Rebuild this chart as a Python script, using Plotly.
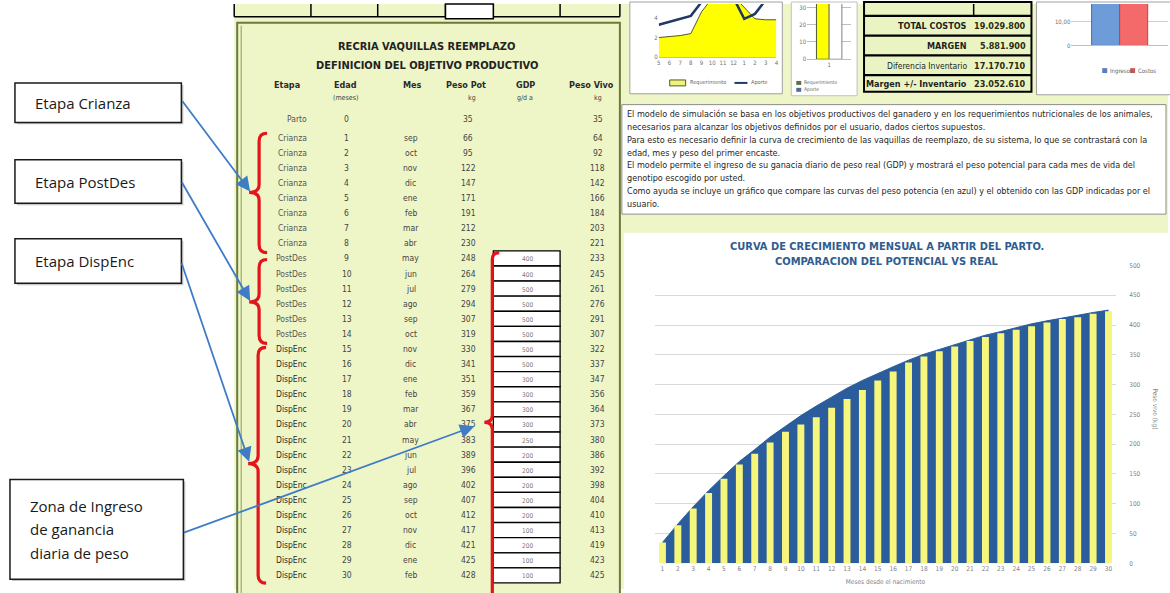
import plotly.graph_objects as go

W, H = 1170, 593

# --- tabla RECRIA VAQUILLAS REEMPLAZO ---
edad = list(range(31))
etapa = ["Parto"] + ["Crianza"] * 8 + ["PostDes"] * 6 + ["DispEnc"] * 16
mes = ["", "sep", "oct", "nov", "dic", "ene", "feb", "mar", "abr",
       "may", "jun", "jul", "ago", "sep", "oct", "nov", "dic", "ene", "feb",
       "mar", "abr", "may", "jun", "jul", "ago", "sep", "oct", "nov", "dic",
       "ene", "feb"]
peso_pot = [35, 66, 95, 122, 147, 171, 191, 212, 230, 248, 264, 279, 294, 307,
            319, 330, 341, 351, 359, 367, 375, 383, 389, 396, 402, 407, 412,
            417, 421, 425, 428]
peso_vivo = [35, 64, 92, 118, 142, 166, 184, 203, 221, 233, 245, 261, 276, 291,
             307, 322, 337, 347, 356, 364, 373, 380, 386, 392, 398, 404, 410,
             413, 419, 423, 425]
gdp = [400, 400, 500, 500, 500, 500, 500, 500, 300, 300, 300, 300, 250, 200,
       200, 200, 200, 200, 100, 200, 100, 100]  # edad 9..30

# --- grafico curva de crecimiento ---
meses_graf = [str(i) for i in range(1, 31)]
pot_graf = peso_pot[:30]
vivo_graf = peso_vivo[:30]

# --- graficos chicos de arriba (cortados) ---
meses_mini = ["5", "6", "7", "8", "9", "10", "11", "12", "1", "2", "3", "4"]
requerimiento = [2.0, 2.1, 2.2, 2.4, 4.6, 6.0, 6.3, 6.2, 5.0, 3.9, 3.8, 3.8]
aporte = [3.3, 3.6, 3.9, 4.2, 5.6, 6.5, 6.8, 6.0, 3.9, 4.4, 5.8, 6.5]
req_barra = [36]
aporte_barra = [40]
ingresos = [24.9]
costos = [19.0]

totales_lbl = ["TOTAL COSTOS", "MARGEN", "Diferencia Inventario", "Margen +/- Inventario"]
totales_val = ["19.029.800", "5.881.900", "17.170.710", "23.052.610"]

texto = [
    "El modelo de simulación se basa en los objetivos productivos del ganadero y en los requerimientos nutricionales de los animales,",
    "necesarios para alcanzar los objetivos definidos por el usuario, dados ciertos supuestos.",
    "Para esto es necesario definir la curva de crecimiento de las vaquillas de reemplazo, de su sistema, lo que se contrastará con la",
    "edad, mes y peso del primer encaste.",
    "El modelo permite el ingreso de su ganacia diario de peso real (GDP) y mostrará el peso potencial para cada mes de vida del",
    "genotipo escogido por usted.",
    "Como ayuda se incluye un gráfico que compare las curvas del peso potencia (en azul) y el obtenido con las GDP indicadas por el",
    "usuario.",
]

GREEN = "#EEF6C8"
BLUE_ARROW = "#3E7CC6"
RED = "#E3141B"
NARROW = "DejaVu Sans Condensed, Liberation Sans, sans-serif"
CALIBRI = "Open Sans, Noto Sans, sans-serif"


def X(px):
    return px / W


def Y(py):
    return 1 - py / H


shapes = []
annotations = []


def rect(x0, y0, x1, y1, fill=None, color=None, width=1, layer="below"):
    shapes.append(dict(type="rect", xref="paper", yref="paper",
                       x0=X(x0), x1=X(x1), y0=Y(y1), y1=Y(y0),
                       fillcolor=fill or "rgba(0,0,0,0)",
                       line=dict(color=color or "rgba(0,0,0,0)", width=width if color else 0),
                       layer=layer))


def hline(x0, x1, y, color="black", width=1, layer="below"):
    shapes.append(dict(type="line", xref="paper", yref="paper",
                       x0=X(x0), x1=X(x1), y0=Y(y), y1=Y(y),
                       line=dict(color=color, width=width), layer=layer))


def vline(x, y0, y1, color="black", width=1, layer="below"):
    shapes.append(dict(type="line", xref="paper", yref="paper",
                       x0=X(x), x1=X(x), y0=Y(y0), y1=Y(y1),
                       line=dict(color=color, width=width), layer=layer))


def text(x, y, s, size=9, color="#333333", xanchor="center", family=NARROW,
         bold=False, angle=0):
    annotations.append(dict(xref="paper", yref="paper", x=X(x), y=Y(y),
                            text=f"<b>{s}</b>" if bold else s, showarrow=False,
                            xanchor=xanchor, yanchor="middle", textangle=angle,
                            font=dict(size=size, color=color, family=family)))


def arrow(tail, head):
    annotations.append(dict(xref="paper", yref="paper", x=X(head[0]), y=Y(head[1]),
                            ax=tail[0] - head[0], ay=tail[1] - head[1],
                            showarrow=True, arrowhead=2, arrowsize=1.6,
                            arrowwidth=1.8, arrowcolor=BLUE_ARROW, text=""))


def brace(x, y0, y1, tip_x, tip_y, curl=8):
    p = lambda a, b: f"{X(a):.5f},{Y(b):.5f}"
    path = (f"M {p(x + curl, y0)} Q {p(x, y0)} {p(x, y0 + curl)} "
            f"L {p(x, tip_y - curl)} Q {p(x, tip_y)} {p(tip_x, tip_y)} "
            f"Q {p(x, tip_y)} {p(x, tip_y + curl)} "
            f"L {p(x, y1 - curl)} Q {p(x, y1)} {p(x + curl, y1)}")
    shapes.append(dict(type="path", xref="paper", yref="paper", path=path,
                       line=dict(color=RED, width=3.2), layer="above"))


# ---------------- fondos ----------------
rect(233, 0, W, H, fill=GREEN)

# pestañas de arriba de la tabla
hline(233, 620, 13, width=1.5)
for xs in [233, 310, 377, 445, 493, 560, 620]:
    vline(xs, 0, 13, width=1.5)
rect(445, 0, 493, 15, fill="white", color="black", width=1.5)

# panel de la tabla
rect(236, 19, 620, 600, fill=GREEN, color="#6B7A3C", width=2)
vline(240, 22, 600, color="#8A9A55", width=1)

# ---------------- tabla ----------------
text(426, 43, "RECRIA VAQUILLAS REEMPLAZO", size=11, color="#222222", bold=True)
text(426, 62, "DEFINICION DEL OBJETIVO PRODUCTIVO", size=11, color="#222222", bold=True)
hdr = [(286, "Etapa", ""), (345, "Edad", "(meses)"), (412, "Mes", ""),
       (466, "Peso Pot", "kg"), (525, "GDP", "g/d a"), (592, "Peso Vivo", "kg")]
for hx, h1, h2 in hdr:
    text(hx, 82, h1, size=9, color="#2A2A2A", bold=True)
    if h2:
        text(hx + (6 if h2 == "kg" else 0), 95, h2, size=7, color="#444444")


def row_y(m):
    return 117 if m == 0 else 135.5 + (m - 1) * 15.3


for m in edad:
    yy = row_y(m)
    col = "#2B2B2B" if etapa[m] == "DispEnc" else "#555555"
    text(308, yy, etapa[m], size=8.5, color=col, xanchor="right")
    text(346, yy, str(m), size=8.5, color="#444444")
    if mes[m]:
        text(410, yy, mes[m], size=8.5, color="#444444")
    text(468, yy, str(peso_pot[m]), size=8.5, color="#444444")
    text(598, yy, str(peso_vivo[m]), size=8.5, color="#444444")

for i, g in enumerate(gdp):
    yy = row_y(9 + i)
    rect(493, yy - 7.6, 560, yy + 7.6, fill="white", color="black", width=1.3)
    text(527, yy + 1, str(g), size=6.5, color="#777777")

# llaves rojas
brace(258, 131, 252, 248, 191)
brace(258, 259, 344, 248, 302)
brace(257, 348, 587, 247, 466)
brace(492, 252, 603, 484, 424, curl=7)

# ---------------- cuadros de la izquierda ----------------
cajas = [(13, 80, 180, 120, ["Etapa Crianza"]),
         (13, 158, 180, 202, ["Etapa PostDes"]),
         (13, 238, 180, 283, ["Etapa DispEnc"]),
         (8, 482, 182, 583, ["Zona de Ingreso", "de ganancia", "diaria de peso"])]
for x0, y0, x1, y1, lines in cajas:
    rect(x0 + 2, y0 + 2, x1 + 2, y1 + 2, fill="#C8C8C8")
    rect(x0, y0, x1, y1, fill="white", color="#1A1A1A", width=1.5)
    n = len(lines)
    for k, s in enumerate(lines):
        yy = (y0 + y1) / 2 + (k - (n - 1) / 2) * 24
        text(x0 + 18, yy, s, size=15, color="#1A1A1A", xanchor="left", family=CALIBRI)

arrow((180, 98), (249, 190))
arrow((180, 181), (249, 301))
arrow((180, 264), (248, 464))
arrow((182, 535), (474, 428))

# ---------------- graficos chicos de arriba ----------------
rect(630, -2, 783, 91, fill="white", color="#A0A0A0")
rect(792, -2, 858, 93, fill="white", color="#C0C0C0")
rect(865, -2, 1033, 89, fill="#EAF4C2", color="black", width=2)
for yy in [12, 32, 52, 72]:
    hline(865, 1033, yy, width=2.2)
vline(975, 0, 12, width=1.5)
for k in range(4):
    yy = [22.5, 42.5, 62.5, 81][k]
    text(970, yy, totales_lbl[k], size=9 if k != 2 else 8.5, color="#1F1F1F",
         xanchor="right", bold=(k != 2))
    text(1030, yy, totales_val[k], size=9, color="#2B2B10", xanchor="right", bold=True)
rect(1038, -2, 1175, 92, fill="white", color="#A0A0A0")

# leyendas de los graficos chicos
rect(670, 77, 686, 83, fill="#F2F27A", color="#4C5A2A", width=1)
text(688, 80, "Requerimiento", size=5.5, color="#666666", xanchor="left")
hline(735, 748, 80, color="#1F3864", width=2)
text(750, 80, "Aporte", size=5.5, color="#666666", xanchor="left")
rect(797, 78, 802, 82, fill="#5E6E48")
text(803, 80, "Requerimiento", size=5, color="#666666", xanchor="left")
rect(797, 85, 802, 89, fill="#4F6D8C")
text(803, 87, "Aporte", size=5, color="#666666", xanchor="left")
rect(1104, 65, 1109, 70, fill="#5B7FB8")
text(1110, 67.5, "Ingresos", size=6, color="#666666", xanchor="left")
rect(1132, 65, 1137, 70, fill="#C85A5A")
text(1138, 67.5, "Costos", size=6, color="#666666", xanchor="left")

# ---------------- texto explicativo ----------------
rect(622, 102, 1168, 213, fill="white", color="#8C8C8C", width=1)
for k, s in enumerate(texto):
    text(625, 112 + k * 12.9, s, size=9, color="#262626", xanchor="left")

# ---------------- grafico principal ----------------
rect(624, 232, W + 2, H + 2, fill="white")
text(888, 246, "CURVA DE CRECIMIENTO MENSUAL A PARTIR DEL PARTO.", size=11,
     color="#2F5C8F", bold=True)
text(888, 261, "COMPARACION DEL POTENCIAL VS REAL", size=11, color="#2F5C8F", bold=True)
text(1156, 410, "Peso vivo (kg)", size=6.5, color="#7F7F7F", angle=90)

fig = go.Figure()

fig.add_trace(go.Scatter(
    x=meses_graf, y=pot_graf, xaxis="x2", yaxis="y2", mode="lines",
    fill="tozeroy", fillcolor="#2B5C9B", line=dict(color="#2B5C9B", width=1),
    name="Peso potencial", hoverinfo="x+y"))
fig.add_trace(go.Bar(
    x=meses_graf, y=vivo_graf, xaxis="x2", yaxis="y6", width=0.45,
    marker=dict(color="#F6F67C", line=dict(width=0)), name="Peso real"))

fig.add_trace(go.Scatter(
    x=meses_mini, y=requerimiento, xaxis="x3", yaxis="y3", mode="lines",
    fill="tozeroy", fillcolor="#FFFF00", line=dict(color="#4C5A2A", width=1),
    name="Requerimiento"))
fig.add_trace(go.Scatter(
    x=meses_mini, y=aporte, xaxis="x3", yaxis="y3", mode="lines",
    line=dict(color="#1F3864", width=2.5), name="Aporte"))

fig.add_trace(go.Bar(x=["1"], y=req_barra, xaxis="x4", yaxis="y4",
                     marker=dict(color="#FFFF00", line=dict(color="#4C5A2A", width=1)),
                     name="Requerimiento"))
fig.add_trace(go.Bar(x=["1"], y=aporte_barra, xaxis="x4", yaxis="y4",
                     marker=dict(color="white", line=dict(color="#7F7F7F", width=1)),
                     name="Aporte"))

fig.add_trace(go.Bar(x=[""], y=ingresos, xaxis="x5", yaxis="y5",
                     marker=dict(color="#6E9CD8", line=dict(color="#3F6AA8", width=1)),
                     name="Ingresos"))
fig.add_trace(go.Bar(x=[""], y=costos, xaxis="x5", yaxis="y5",
                     marker=dict(color="#F46A6A", line=dict(color="#B84545", width=1)),
                     name="Costos"))


def dom_x(a, b):
    return [a / W, b / W]


def dom_y(top, bottom):
    return [1 - bottom / H, 1 - top / H]


tiny = dict(size=6.5, color="#7F7F7F", family=NARROW)
mini = dict(size=6, color="#6F6F6F", family=NARROW)

fig.update_layout(
    width=W, height=H, margin=dict(l=0, r=0, t=0, b=0),
    paper_bgcolor="white", plot_bgcolor="rgba(0,0,0,0)",
    showlegend=False, barmode="group", bargap=0.42, bargroupgap=0,
    shapes=shapes, annotations=annotations,
    xaxis2=dict(domain=dom_x(655, 1118), anchor="y2", type="category",
                range=[-0.5, 29.5], showgrid=False, zeroline=False, ticks="",
                tickfont=tiny, tickangle=0,
                title=dict(text="Meses desde el nacimiento",
                           font=dict(size=6.5, color="#7F7F7F", family=NARROW),
                           standoff=7)),
    yaxis2=dict(domain=dom_y(265, 567), anchor="x2", side="right", range=[0, 500],
                dtick=50, gridcolor="#D9D9D9", gridwidth=1, zeroline=False,
                showline=False, ticks="", tickfont=tiny, ticklabelstandoff=12),
    yaxis6=dict(overlaying="y2", range=[0, 500], visible=False, anchor="x2"),
    xaxis3=dict(domain=dom_x(659, 777), anchor="y3", type="category",
                range=[0, 11], showgrid=False, zeroline=False, ticks="",
                showline=True, linecolor="#BFBFBF", tickfont=mini, tickangle=0),
    yaxis3=dict(domain=dom_y(0, 54), anchor="x3", range=[0, 5.4],
                tickvals=[0, 2, 4], showgrid=False, zeroline=False, ticks="",
                tickfont=mini),
    xaxis4=dict(domain=dom_x(808, 852), anchor="y4", type="category",
                showgrid=False, zeroline=False, ticks="", showline=True,
                linecolor="#BFBFBF", tickfont=mini),
    yaxis4=dict(domain=dom_y(0, 56), anchor="x4", range=[0, 32], dtick=10,
                gridcolor="#BFBFBF", zeroline=False, ticks="", tickfont=mini),
    xaxis5=dict(domain=dom_x(1073, 1170), anchor="y5", type="category",
                showgrid=False, zeroline=False, ticks="", showline=True,
                linecolor="#BFBFBF", showticklabels=False),
    yaxis5=dict(domain=dom_y(0, 42), anchor="x5", range=[0, 17.5],
                tickvals=[0, 10], ticktext=["0", "10,00"], gridcolor="#D0D0D0",
                zeroline=False, ticks="", tickfont=mini),
)

fig.write_html("out.html", config={"displayModeBar": False},
               post_script="document.body.style.margin='0px';")
